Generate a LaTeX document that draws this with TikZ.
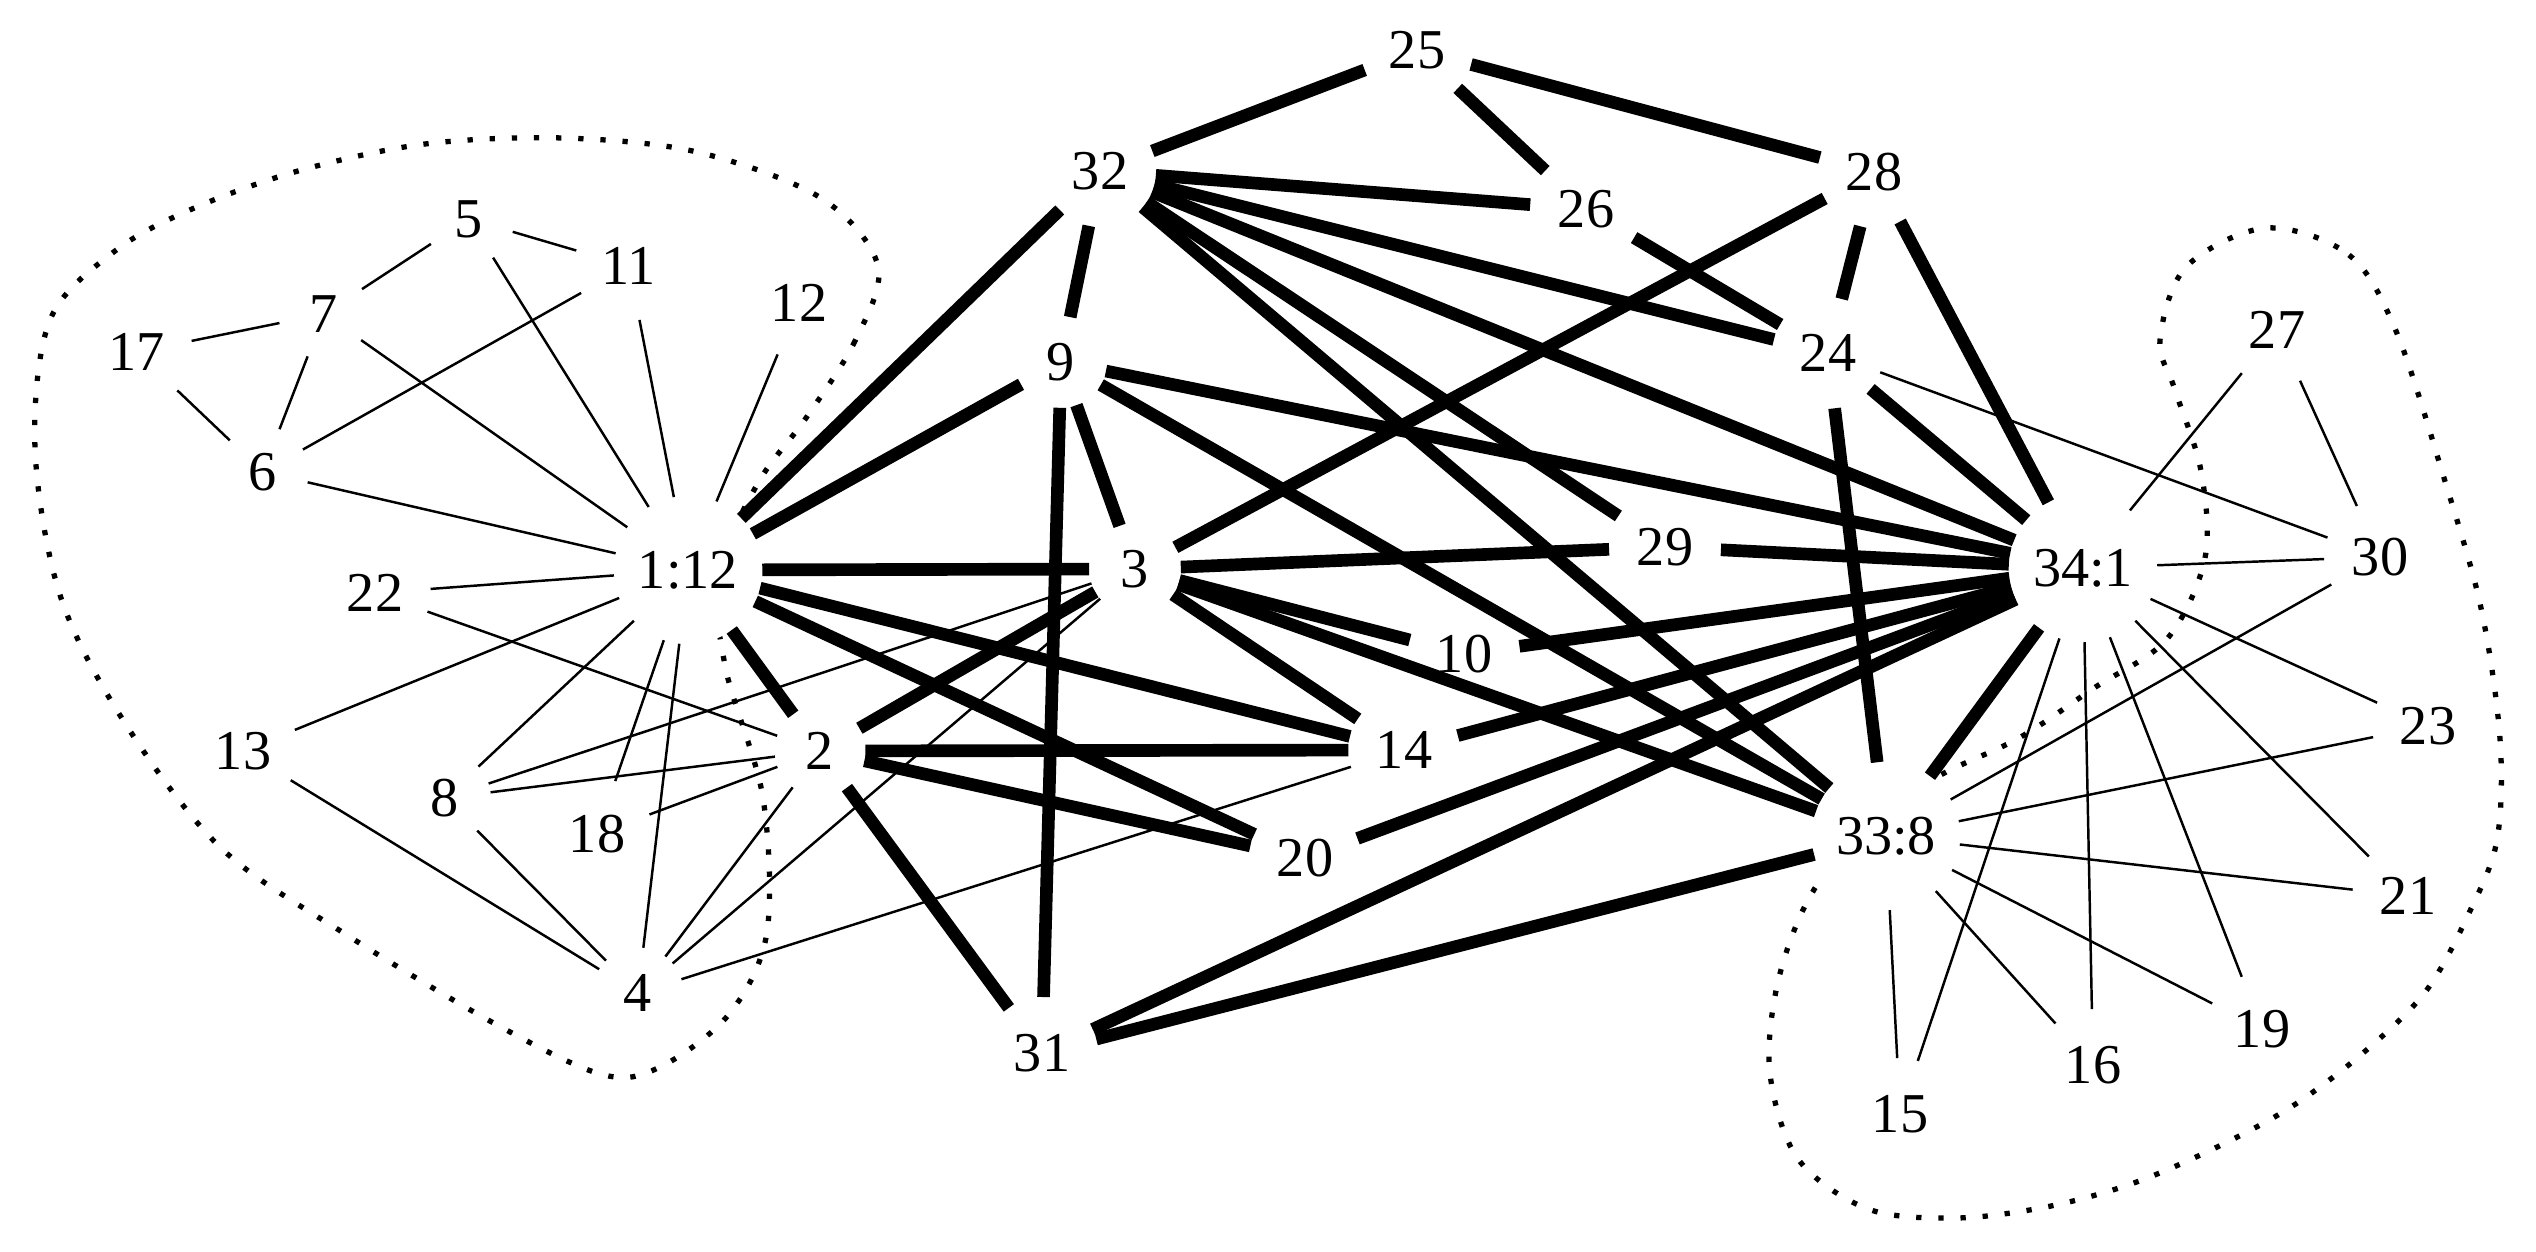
\documentclass[tikz,border=0pt]{standalone}
\usepackage{fontspec}
\setmainfont{Liberation Serif}

\begin{document}
\begin{tikzpicture}[x=0.01cm, y=-0.01cm,
    vertex/.style={circle, fill=white, inner sep=4.5pt, outer sep=0pt, font=\fontsize{16}{19}\selectfont},
    weak/.style={line width=0.7pt},
    strong/.style={line width=3.6pt},
    group/.style={line width=1.5pt, dash pattern=on 1.5pt off 4.8pt}]
    \useasboundingbox (0,0) rectangle (2536,1252);

    % Dotted outline round the left group
    \draw[group] plot[smooth cycle, tension=0.55] coordinates {
        (878,266) (855,341) (806,418) (758,483) (718,575) (726,670) (763,798)
        (767,932) (730,1013) (662,1066) (604,1075) (499,1026) (350,937) (221,848)
        (123,720) (60,595) (35,448) (50,320) (115,251) (192,209) (298,171)
        (425,144) (563,138) (697,152) (821,198)};

    % Dotted outline round the right group
    \draw[group] plot[smooth cycle, tension=0.55] coordinates {
        (2266,228) (2349,255) (2396,331) (2444,478) (2481,608) (2500,739)
        (2497,840) (2469,913) (2426,991) (2363,1053) (2291,1107) (2213,1149)
        (2131,1184) (2046,1207) (1956,1218) (1868,1209) (1798,1159) (1770,1074)
        (1777,986) (1807,902) (1860,830) (1937,777) (2019,738) (2094,688)
        (2167,639) (2205,558) (2201,471) (2175,390) (2160,340) (2186,267)};

    % Members
    \node[vertex] (v1) at (688,570) {1:12};
    \node[vertex] (v2) at (820,751) {2};
    \node[vertex] (v3) at (1135,569) {3};
    \node[vertex] (v4) at (638,993) {4};
    \node[vertex] (v5) at (469,219) {5};
    \node[vertex] (v6) at (263,472) {6};
    \node[vertex] (v7) at (324,314) {7};
    \node[vertex] (v8) at (445,798) {8};
    \node[vertex] (v9) at (1061,362) {9};
    \node[vertex] (v10) at (1464,654) {10};
    \node[vertex] (v11) at (629,266) {11};
    \node[vertex] (v12) at (799,303) {12};
    \node[vertex] (v13) at (243,751) {13};
    \node[vertex] (v14) at (1404,750) {14};
    \node[vertex] (v15) at (1900,1114) {15};
    \node[vertex] (v16) at (2093,1065) {16};
    \node[vertex] (v17) at (137,352) {17};
    \node[vertex] (v18) at (597,834) {18};
    \node[vertex] (v19) at (2262,1029) {19};
    \node[vertex] (v20) at (1305,858) {20};
    \node[vertex] (v21) at (2408,896) {21};
    \node[vertex] (v22) at (375,593) {22};
    \node[vertex] (v23) at (2428,726) {23};
    \node[vertex] (v24) at (1828,353) {24};
    \node[vertex] (v25) at (1417,50) {25};
    \node[vertex] (v26) at (1586,209) {26};
    \node[vertex] (v27) at (2277,330) {27};
    \node[vertex] (v28) at (1874,172) {28};
    \node[vertex] (v29) at (1665,547) {29};
    \node[vertex] (v30) at (2380,557) {30};
    \node[vertex] (v31) at (1042,1053) {31};
    \node[vertex] (v32) at (1100,171) {32};
    \node[vertex] (v33) at (1886,836) {33:8};
    \node[vertex] (v34) at (2083,568) {34:1};

    % Thin ties to the members of a group
    \foreach \a/\b in {1/4, 1/5, 1/6, 1/7, 1/8, 1/11, 1/12, 1/13, 1/18, 1/22,
                       5/7, 5/11, 6/7, 6/11, 6/17, 7/17, 4/13, 4/8, 2/8, 3/8,
                       2/18, 2/22, 2/4, 3/4, 4/14,
                       33/15, 33/16, 33/19, 33/21, 33/23, 33/30,
                       34/15, 34/16, 34/19, 34/21, 34/23, 34/27, 34/30,
                       24/30, 27/30}
        \draw[weak] (v\a) -- (v\b);

    % Thick ties between the rest
    \foreach \a/\b in {1/2, 1/3, 1/9, 1/14, 1/20, 1/32, 2/3, 2/14, 2/20, 2/31,
                       3/9, 3/10, 3/14, 3/28, 3/29, 3/33, 9/31, 9/32, 9/33, 9/34,
                       10/34, 14/34, 20/34, 24/26, 24/28, 24/32, 24/33, 24/34,
                       25/26, 25/28, 25/32, 26/32, 28/34, 29/32, 29/34,
                       31/33, 31/34, 32/33, 32/34, 33/34}
        \draw[strong] (v\a) -- (v\b);
\end{tikzpicture}
\end{document}
